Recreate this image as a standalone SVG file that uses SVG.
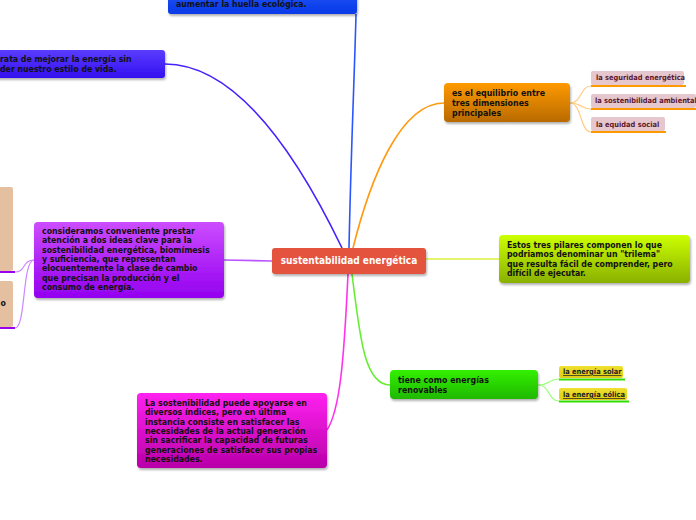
<svg xmlns="http://www.w3.org/2000/svg" width="696" height="520" viewBox="0 0 696 520">
<defs>
<filter id="sh" x="-10%" y="-10%" width="130%" height="140%"><feDropShadow dx="1" dy="2" stdDeviation="1.2" flood-color="#000" flood-opacity="0.3"/></filter>
<linearGradient id="gBlue" x1="0" y1="0" x2="0" y2="1"><stop offset="0" stop-color="#2a66ff"/><stop offset="1" stop-color="#0a3ae8"/></linearGradient>
<linearGradient id="gViolet" x1="0" y1="0" x2="0" y2="1"><stop offset="0" stop-color="#5a3cff"/><stop offset="1" stop-color="#3310f0"/></linearGradient>
<linearGradient id="gOrange" x1="0" y1="0" x2="0" y2="1"><stop offset="0" stop-color="#ff9a00"/><stop offset="1" stop-color="#b86a00"/></linearGradient>
<linearGradient id="gYellow" x1="0" y1="0" x2="0" y2="1"><stop offset="0" stop-color="#ccff00"/><stop offset="1" stop-color="#8ab000"/></linearGradient>
<linearGradient id="gGreen" x1="0" y1="0" x2="0" y2="1"><stop offset="0" stop-color="#33f000"/><stop offset="1" stop-color="#20b800"/></linearGradient>
<linearGradient id="gMagenta" x1="0" y1="0" x2="0" y2="1"><stop offset="0" stop-color="#ff22f0"/><stop offset="1" stop-color="#b800a8"/></linearGradient>
<linearGradient id="gPurple" x1="0" y1="0" x2="0" y2="1"><stop offset="0" stop-color="#cc4dff"/><stop offset="1" stop-color="#9400f0"/></linearGradient>
<linearGradient id="gLimeChild" x1="0" y1="0" x2="0" y2="1"><stop offset="0" stop-color="#f0e030"/><stop offset="1" stop-color="#e0cc10"/></linearGradient>
</defs>
<style>
.t{font-family:"DejaVu Sans Condensed","DejaVu Sans",sans-serif;font-weight:bold;fill:#111;font-size:8.7px}
.tm{font-family:"DejaVu Sans Condensed","DejaVu Sans",sans-serif;font-weight:bold;fill:#111;font-size:8.8px}
.tc{font-family:"DejaVu Sans Condensed","DejaVu Sans",sans-serif;font-weight:bold;fill:#fff;font-size:10px}
.ts{font-family:"DejaVu Sans Condensed","DejaVu Sans",sans-serif;font-weight:bold;fill:#5a1830;font-size:7.4px}
.tg{font-family:"DejaVu Sans Condensed","DejaVu Sans",sans-serif;font-weight:bold;fill:#222;font-size:7.4px;text-decoration:underline}
.pink{fill:#e6c7cd}
.peach{fill:#e4c0a0}
.c{fill:none;stroke-width:1.6}
.cs{fill:none;stroke-width:1.2}
</style>
<g id="connectors">
<path class="c" stroke="#2a55ff" d="M349,248 C351,150 355,60 356,14"/>
<path class="c" stroke="#4422ff" d="M342,248 C290,140 230,64 165,64"/>
<path class="c" stroke="#ff9a10" d="M353,248 C370,180 400,103 444,103"/>
<path class="c" stroke="#ddf040" d="M426,259 L499,259"/>
<path class="c" stroke="#66ee33" d="M352,274 C360,340 365,385 390,385"/>
<path class="c" stroke="#ff33ee" d="M348,274 C344,360 340,410 327,430"/>
<path class="c" stroke="#bb55ff" d="M272,261 L224,260"/>
<path class="cs" stroke="#ffcc80" d="M570,103 C582,103 580,86 591,86"/>
<path class="cs" stroke="#ffcc80" d="M570,103 C582,103 580,109 591,109"/>
<path class="cs" stroke="#ffcc80" d="M570,103 C582,103 580,132 591,132"/>
<path class="cs" stroke="#99ff77" d="M538,385 C550,385 548,379 559,379"/>
<path class="cs" stroke="#99ff77" d="M538,385 C550,385 548,401 559,401"/>
<path class="cs" stroke="#cc88ff" d="M34,260 C22,260 26,272 15,272"/>
<path class="cs" stroke="#cc88ff" d="M34,260 C22,260 26,328 15,328"/>
</g>
<g id="n-blue">
<rect x="168" y="-30" width="189" height="44" rx="3" fill="url(#gBlue)" filter="url(#sh)"/>
<text class="t" x="176" y="7">aumentar la huella ecológica.</text>
</g>
<g id="n-violet">
<rect x="-30" y="50" width="195" height="28" rx="3" fill="url(#gViolet)" filter="url(#sh)"/>
<text class="t" x="0" y="62">rata de mejorar la energía sin</text>
<text class="t" x="0" y="71.5">der nuestro estilo de vida.</text>
</g>
<g id="n-center">
<rect x="272" y="248" width="154" height="26" rx="3" fill="#e4533e" filter="url(#sh)"/>
<text class="tc" x="349" y="264" text-anchor="middle">sustentabilidad energética</text>
</g>
<g id="n-orange">
<rect x="444" y="83" width="126" height="39" rx="4" fill="url(#gOrange)" filter="url(#sh)"/>
<text class="tm" x="452" y="96">es el equilibrio entre</text>
<text class="tm" x="452" y="106">tres dimensiones</text>
<text class="tm" x="452" y="116">principales</text>
</g>
<g id="n-seg">
<rect class="pink" x="591" y="71" width="93" height="14" rx="2"/>
<line x1="591" y1="86" x2="686" y2="86" stroke="#ff9900" stroke-width="2"/>
<text class="ts" x="596" y="80">la seguridad energética</text>
</g>
<g id="n-sost">
<rect class="pink" x="591" y="94" width="105" height="14" rx="2"/>
<line x1="591" y1="109" x2="696" y2="109" stroke="#ff9900" stroke-width="2"/>
<text class="ts" x="595" y="103">la sostenibilidad ambiental</text>
</g>
<g id="n-equ">
<rect class="pink" x="591" y="117" width="74" height="14" rx="2"/>
<line x1="591" y1="132" x2="666" y2="132" stroke="#ff9900" stroke-width="2"/>
<text class="ts" x="596" y="127">la equidad social</text>
</g>
<g id="n-yellow">
<rect x="499" y="235" width="191" height="48" rx="4" fill="url(#gYellow)" filter="url(#sh)"/>
<text class="t" x="507" y="248">Estos tres pilares componen lo que</text>
<text class="t" x="507" y="257.3">podriamos denominar un "trilema"</text>
<text class="t" x="507" y="266.6">que resulta fácil de comprender, pero</text>
<text class="t" x="507" y="275.9">difícil de ejecutar.</text>
</g>
<g id="n-green">
<rect x="390" y="370" width="148" height="29" rx="4" fill="url(#gGreen)" filter="url(#sh)"/>
<text class="tm" x="398" y="383">tiene como energías</text>
<text class="tm" x="398" y="393">renovables</text>
</g>
<g id="n-solar">
<rect x="559" y="366" width="64" height="12" rx="2" fill="url(#gLimeChild)"/>
<line x1="559" y1="379.5" x2="625" y2="379.5" stroke="#33dd00" stroke-width="2"/>
<text class="tg" x="563" y="374">la energía solar</text>
</g>
<g id="n-eolica">
<rect x="559" y="388" width="68" height="12" rx="2" fill="url(#gLimeChild)"/>
<line x1="559" y1="401.5" x2="629" y2="401.5" stroke="#33dd00" stroke-width="2"/>
<text class="tg" x="563" y="397">la energía eólica</text>
</g>
<g id="n-magenta">
<rect x="137" y="393" width="190" height="75" rx="4" fill="url(#gMagenta)" filter="url(#sh)"/>
<text class="t" x="145" y="406">La sostenibilidad puede apoyarse en</text>
<text class="t" x="145" y="415.3">diversos índices, pero en última</text>
<text class="t" x="145" y="424.6">instancia consiste en satisfacer las</text>
<text class="t" x="145" y="433.9">necesidades de la actual generación</text>
<text class="t" x="145" y="443.2">sin sacrificar la capacidad de futuras</text>
<text class="t" x="145" y="452.5">generaciones de satisfacer sus propias</text>
<text class="t" x="145" y="461.8">necesidades.</text>
</g>
<g id="n-purple">
<rect x="34" y="222" width="190" height="76" rx="4" fill="url(#gPurple)" filter="url(#sh)"/>
<text class="t" x="42" y="234">consideramos conveniente prestar</text>
<text class="t" x="42" y="243.3">atención a dos ideas clave para la</text>
<text class="t" x="42" y="252.6">sostenibilidad energética, biomímesis</text>
<text class="t" x="42" y="261.9">y suficiencia, que representan</text>
<text class="t" x="42" y="271.2">elocuentemente la clase de cambio</text>
<text class="t" x="42" y="280.5">que precisan la producción y el</text>
<text class="t" x="42" y="289.8">consumo de energía.</text>
</g>
<g id="n-peach1">
<rect class="peach" x="-5" y="187" width="18" height="84" rx="2"/>
<line x1="0" y1="272" x2="15" y2="272" stroke="#9900ee" stroke-width="2"/>
</g>
<g id="n-peach2">
<rect class="peach" x="-5" y="281" width="18" height="46" rx="2"/>
<line x1="0" y1="328" x2="15" y2="328" stroke="#9900ee" stroke-width="2"/>
<text class="t" x="0.5" y="306">o</text>
</g>
</svg>
